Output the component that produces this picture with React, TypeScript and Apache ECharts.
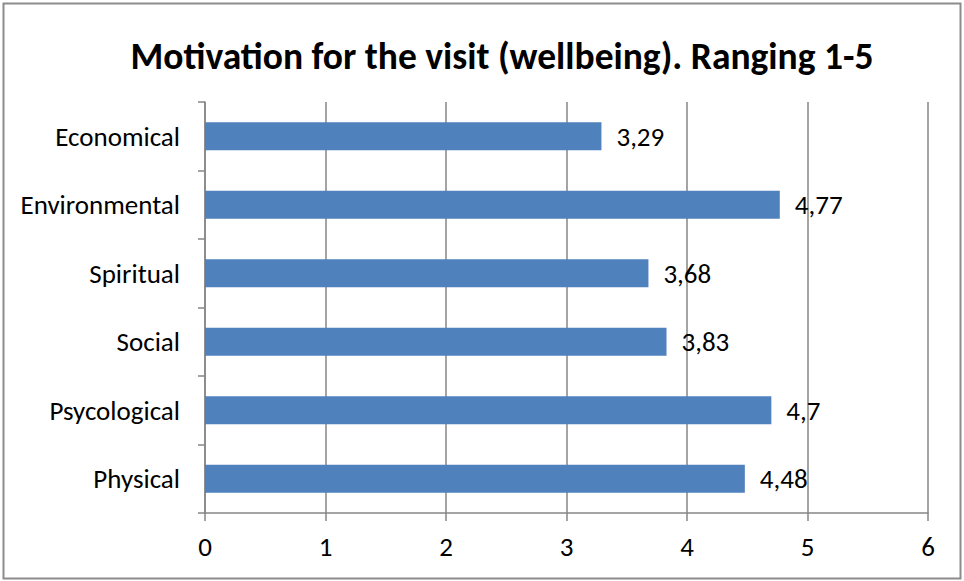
import React, { useEffect, useRef } from "react";
import * as echarts from "echarts";

const categories = ["Economical", "Environmental", "Spiritual", "Social", "Psycological", "Physical"];
const values = [3.29, 4.77, 3.68, 3.83, 4.7, 4.48];
const xTicks = [0, 1, 2, 3, 4, 5, 6];
const titleText = "Motivation for the visit (wellbeing). Ranging 1-5";

const FONT = "Carlito, 'Open Sans', sans-serif";

export default function App() {
  const ref = useRef<HTMLDivElement>(null);
  useEffect(() => {
    if (!ref.current) return;
    const chart = echarts.init(ref.current, undefined, { renderer: "svg" });
    chart.setOption({
      animation: false,
      backgroundColor: "#ffffff",
      title: {
        text: titleText,
        left: 497,
        top: 32,
        textAlign: "center",
        textStyle: { fontFamily: FONT, fontSize: 37.5, fontWeight: "bold", color: "#000" },
      },
      graphic: [
        {
          type: "rect",
          shape: { x: 3.5, y: 3.5, width: 957, height: 575 },
          style: { fill: "none", stroke: "#8c8c8c", lineWidth: 2 },
          silent: true,
        },
      ],
      grid: { left: 205, right: 36, top: 102, bottom: 68, containLabel: false },
      xAxis: {
        type: "value",
        min: xTicks[0],
        max: xTicks[xTicks.length - 1],
        interval: 1,
        axisLine: { show: true, lineStyle: { color: "#868686", width: 1.5 } },
        axisTick: { show: true, length: 8, lineStyle: { color: "#868686", width: 1.5 } },
        splitLine: { show: true, lineStyle: { color: "#868686", width: 1.5 } },
        axisLabel: { fontFamily: FONT, fontSize: 27, color: "#000", margin: 20 },
      },
      yAxis: {
        type: "category",
        data: categories,
        inverse: true,
        axisLine: { show: true, lineStyle: { color: "#868686", width: 1.5 } },
        axisTick: { show: true, length: 7, alignWithLabel: false, lineStyle: { color: "#868686", width: 1.5 } },
        axisLabel: { fontFamily: FONT, fontSize: 27, color: "#000", margin: 25 },
      },
      series: [
        {
          type: "bar",
          data: values,
          barWidth: 28,
          itemStyle: { color: "#4f81bd" },
          label: {
            show: true,
            position: "right",
            distance: 15,
            fontFamily: FONT,
            fontSize: 27,
            color: "#000",
            formatter: (p: any) => String(p.value).replace(".", ","),
          },
        },
      ],
    });
    return () => chart.dispose();
  }, []);
  return <div ref={ref} style={{ position: "fixed", left: 0, top: 0, width: 964, height: 581 }} />;
}
